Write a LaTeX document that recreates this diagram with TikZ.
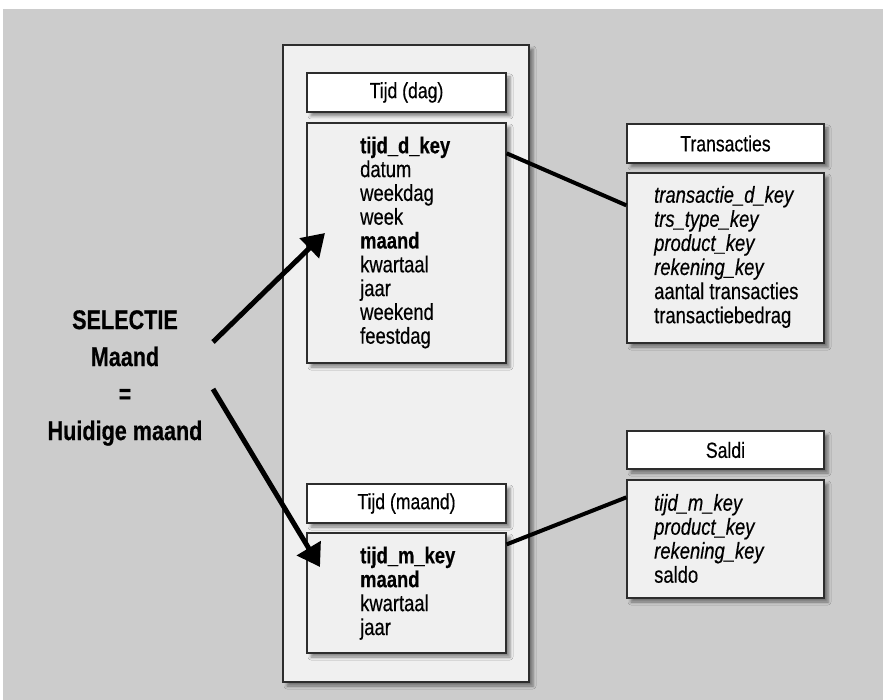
\documentclass[tikz,border=0pt]{standalone}
\usepackage{fontspec}
\setmainfont{Liberation Sans}[FakeStretch=0.8,FakeBold=0.4]
\usetikzlibrary{arrows.meta,shadows.blur}

\definecolor{achter}{RGB}{204,204,204}
\definecolor{vlak}{RGB}{240,240,240}
\definecolor{rand}{RGB}{45,45,45}

\begin{document}
\begin{tikzpicture}[x=1pt,y=-1pt,
  schaduw/.style={blur shadow={shadow xshift=4pt,shadow yshift=-4pt,shadow blur radius=3pt,shadow opacity=45}},
  vak/.style={draw=rand,line width=1.3pt,fill=vlak,minimum width=199pt,inner sep=0pt,schaduw},
  kop/.style={vak,fill=white,minimum height=39pt,font=\fontsize{22}{24}\selectfont},
  veld/.style={anchor=base west,inner sep=0pt,font=\fontsize{23}{24}\selectfont},
  lijn/.style={line width=4pt},
  pijl/.style={line width=5pt,-{Triangle[length=22pt,width=27pt]}}]

\useasboundingbox (0,0) rectangle (883,700);
\fill[achter] (3,9) rectangle (883,700);

\node[vak,minimum width=246pt,minimum height=637pt] (paneel) at (406,363.5) {};

\node[kop] (dagkop) at (406.5,92.5) {Tijd (dag)};
\node[vak,minimum height=240pt] (dagbody) at (406.5,243) {};

\node[kop] (maandkop) at (406.5,503.5) {Tijd (maand)};
\node[vak,minimum height=120pt] (maandbody) at (406.5,593) {};

\node[kop,minimum width=197pt] (transkop) at (725.5,143.5) {Transacties};
\node[vak,minimum width=197pt,minimum height=170pt] (transbody) at (725.5,258) {};

\node[kop,minimum width=197pt,minimum height=38pt] (saldikop) at (725.5,450) {Saldi};
\node[vak,minimum width=197pt,minimum height=118pt] (saldibody) at (725.5,539) {};

\foreach \t [count=\i] in {\textbf{tijd\_d\_key},datum,weekdag,week,\textbf{maand},kwartaal,jaar,weekend,feestdag}
    \node[veld] (dag\i) at (360,{153.3+23.8*(\i-1)}) {\t};

\foreach \t [count=\i] in {\textbf{tijd\_m\_key},\textbf{maand},kwartaal,jaar}
    \node[veld] (maand\i) at (360,{563.3+23.9*(\i-1)}) {\t};

\foreach \t [count=\i] in {\textit{transactie\_d\_key},\textit{trs\_type\_key},\textit{product\_key},\textit{rekening\_key},aantal transacties,transactiebedrag}
    \node[veld] (trans\i) at (654,{202.7+24.1*(\i-1)}) {\t};

\foreach \t [count=\i] in {\textit{tijd\_m\_key},\textit{product\_key},\textit{rekening\_key},saldo}
    \node[veld] (saldi\i) at (654,{510.7+24*(\i-1)}) {\t};

\node[font=\bfseries\fontsize{27}{37}\selectfont,align=center] (selectie) at (125,378) {SELECTIE\\Maand\\=\\Huidige maand};

\draw[lijn] ([yshift=-31pt]dagbody.north east) -- ([yshift=-33pt]transbody.north west);
\draw[lijn] ([yshift=-12pt]maandbody.north east) -- ([yshift=-18pt]saldibody.north west);

\coordinate (staart1) at (213,342);
\coordinate (punt1) at (325,233);
\coordinate (staart2) at (213,389);
\coordinate (punt2) at (320,567);

\draw[pijl] (staart1) -- (punt1);
\draw[pijl] (staart2) -- (punt2);

\end{tikzpicture}
\end{document}
